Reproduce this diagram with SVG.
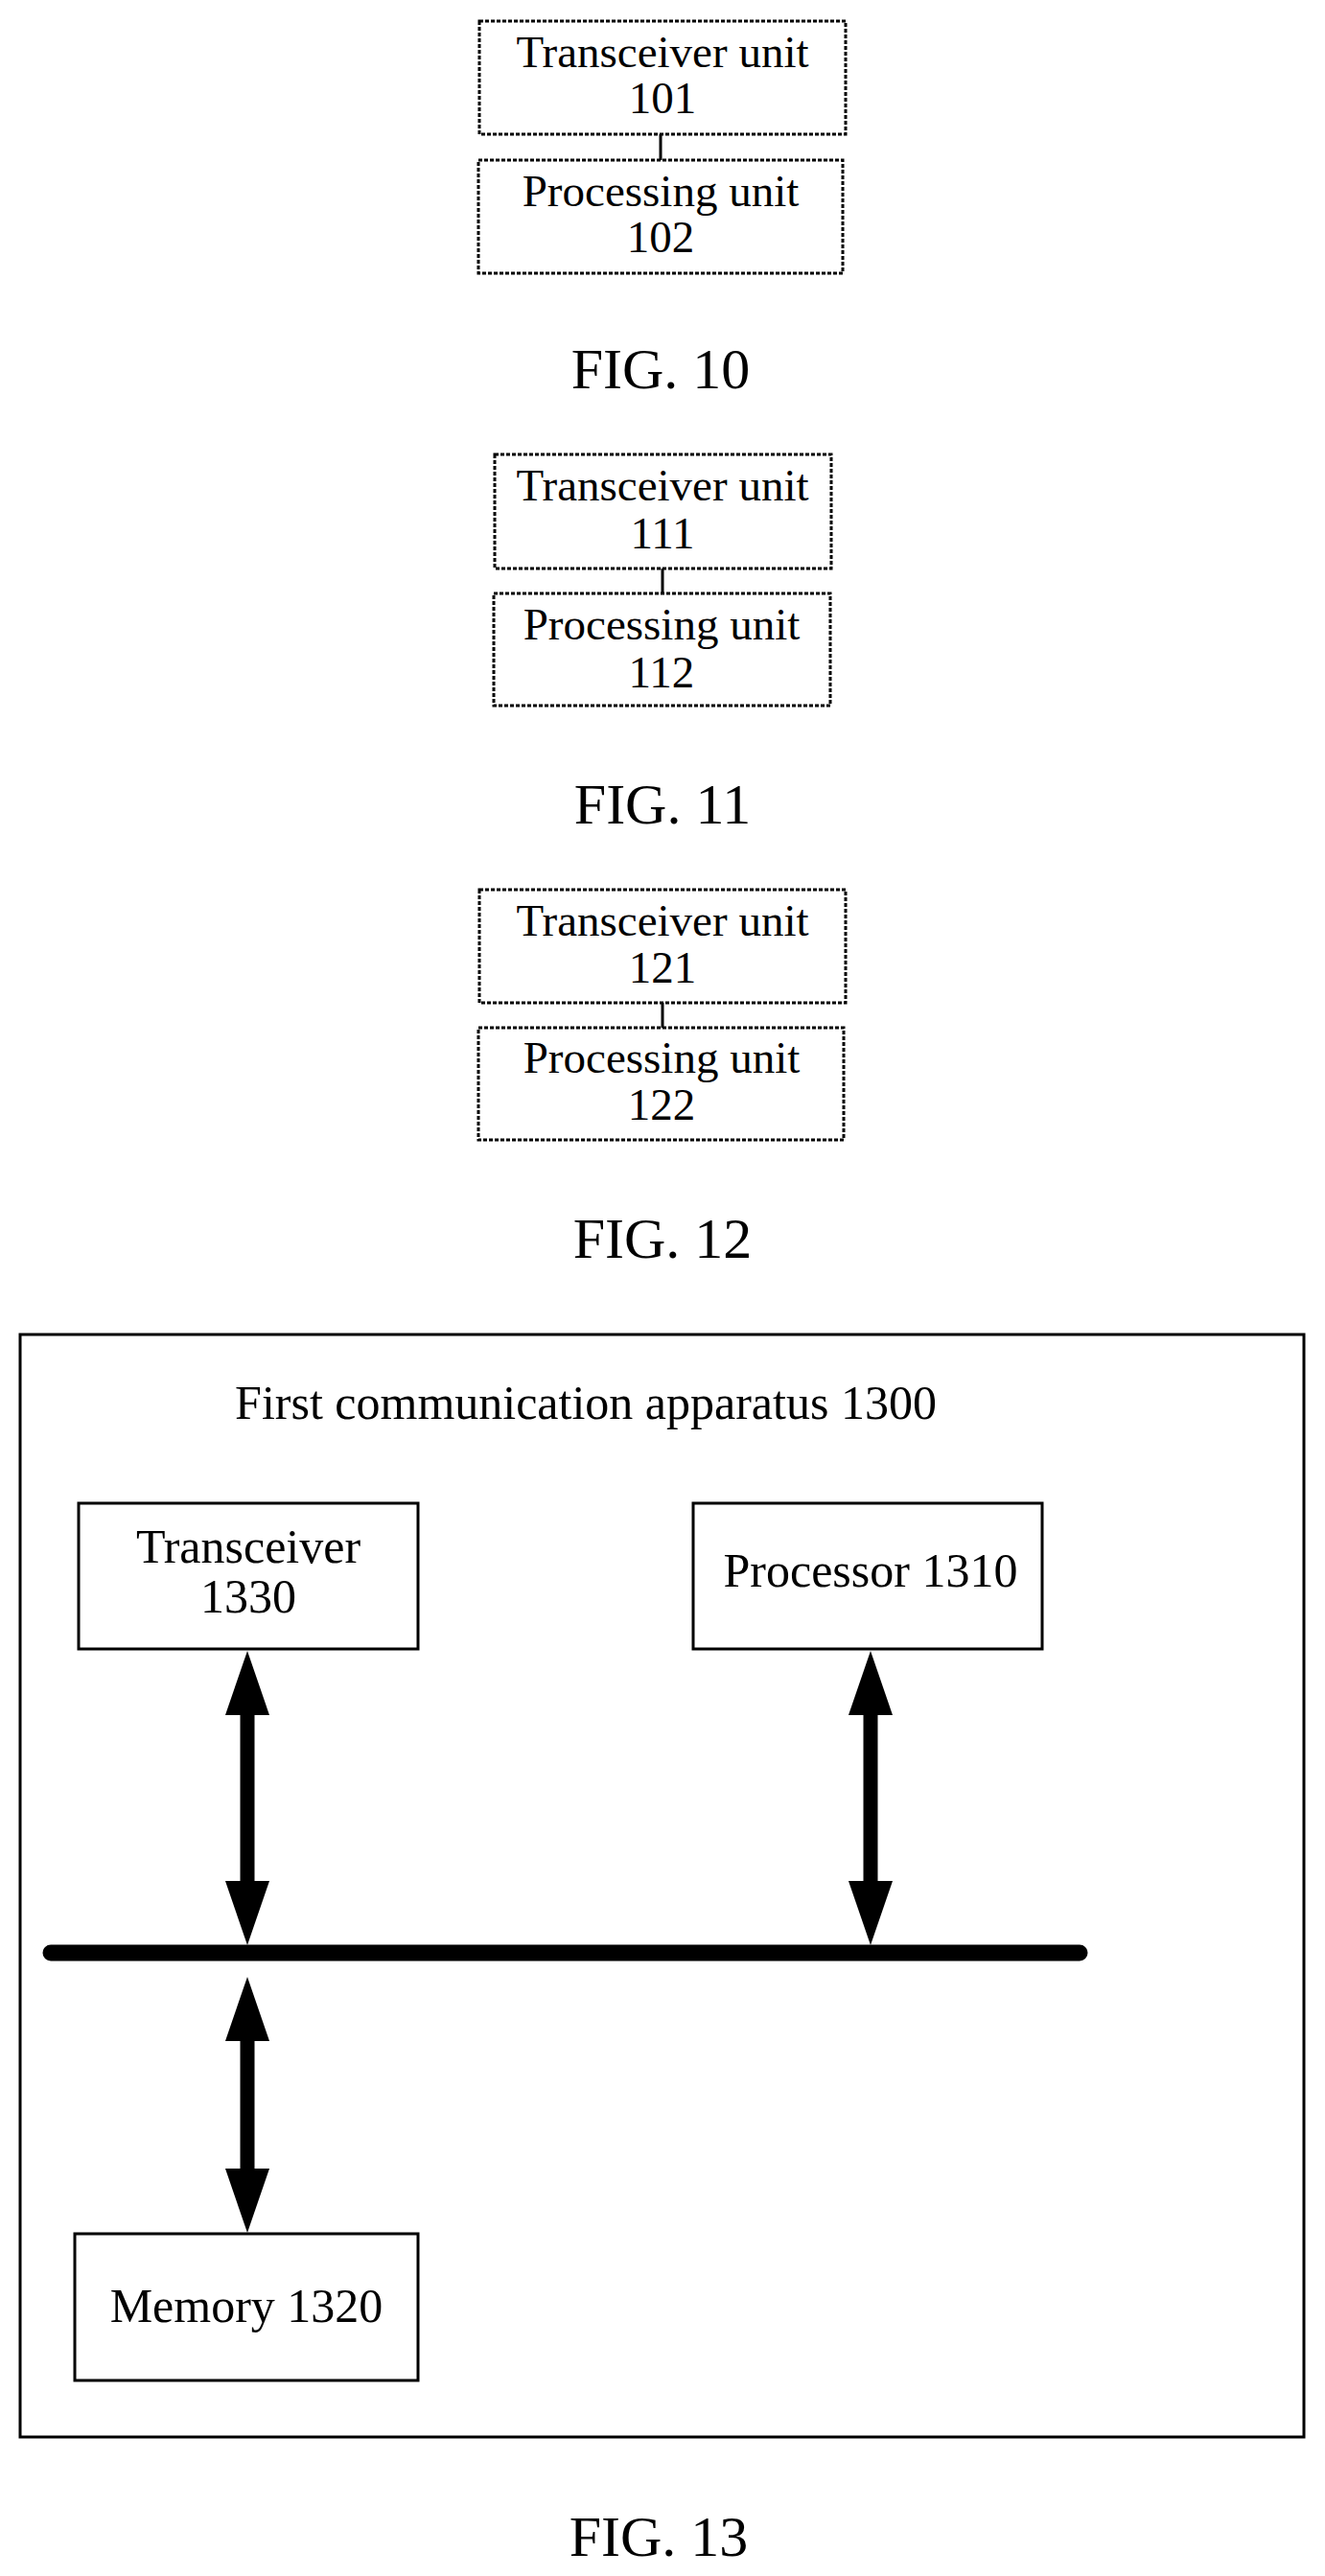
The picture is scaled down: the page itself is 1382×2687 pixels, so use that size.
<svg xmlns="http://www.w3.org/2000/svg" width="1382" height="2687" viewBox="0 0 1382 2687">
<style>
text{font-family:"Liberation Serif","Times New Roman",serif;fill:#000;text-anchor:middle}
.u{font-size:47px}
.f{font-size:60px}
.b{font-size:50px}
.d{fill:#fff;stroke:#000;stroke-width:3;stroke-dasharray:4 2}
.s{fill:#fff;stroke:#000;stroke-width:3}
.c{stroke:#000;stroke-width:3}
.a{stroke:#000;stroke-width:15}
.h{fill:#000}
</style>
<rect width="1382" height="2687" fill="#fff"/>
<g id="n101"><rect class="d" x="500" y="22" width="382" height="118"/><text class="u" x="691" y="70">Transceiver unit</text><text class="u" x="691" y="118">101</text></g>
<g id="n102"><rect class="d" x="499" y="167" width="380" height="118"/><text class="u" x="689" y="215">Processing unit</text><text class="u" x="689" y="263">102</text></g>
<text class="f" x="689" y="405">FIG. 10</text>
<g id="n111"><rect class="d" x="516" y="474" width="351" height="119"/><text class="u" x="691" y="522">Transceiver unit</text><text class="u" x="691" y="572">111</text></g>
<g id="n112"><rect class="d" x="515" y="619" width="351" height="117"/><text class="u" x="690" y="667">Processing unit</text><text class="u" x="690" y="717">112</text></g>
<text class="f" x="691" y="859">FIG. 11</text>
<g id="n121"><rect class="d" x="500" y="928" width="382" height="118"/><text class="u" x="691" y="976">Transceiver unit</text><text class="u" x="691" y="1025">121</text></g>
<g id="n122"><rect class="d" x="499" y="1072" width="381" height="117"/><text class="u" x="690" y="1119">Processing unit</text><text class="u" x="690" y="1168">122</text></g>
<text class="f" x="691" y="1312">FIG. 12</text>
<g id="n1300"><rect class="s" x="21" y="1392" width="1339" height="1150" stroke-width="4"/><text class="b" x="611" y="1480">First communication apparatus 1300</text></g>
<g id="n1330"><rect class="s" x="82" y="1568" width="354" height="152"/><text class="b" x="259" y="1630">Transceiver</text><text class="b" x="259" y="1682">1330</text></g>
<g id="n1310"><rect class="s" x="723" y="1568" width="364" height="152"/><text class="b" x="908" y="1655">Processor 1310</text></g>
<g id="n1320"><rect class="s" x="78" y="2330" width="358" height="153"/><text class="b" x="257" y="2422">Memory 1320</text></g>
<text class="f" x="687" y="2666">FIG. 13</text>
<g id="connectors">
<line class="c" x1="689" y1="140" x2="689" y2="167"/>
<line class="c" x1="691" y1="593" x2="691" y2="619"/>
<line class="c" x1="691" y1="1046" x2="691" y2="1072"/>
<line x1="53" y1="2037" x2="1126" y2="2037" stroke="#000" stroke-width="17" stroke-linecap="round"/>
<line class="a" x1="258" y1="1780" x2="258" y2="1970"/>
<polygon class="h" points="258,1722 235,1789 281,1789"/>
<polygon class="h" points="258,2029 235,1962 281,1962"/>
<line class="a" x1="908" y1="1780" x2="908" y2="1970"/>
<polygon class="h" points="908,1722 885,1789 931,1789"/>
<polygon class="h" points="908,2029 885,1962 931,1962"/>
<line class="a" x1="258" y1="2120" x2="258" y2="2270"/>
<polygon class="h" points="258,2062 235,2129 281,2129"/>
<polygon class="h" points="258,2329 235,2262 281,2262"/>
</g>
</svg>
